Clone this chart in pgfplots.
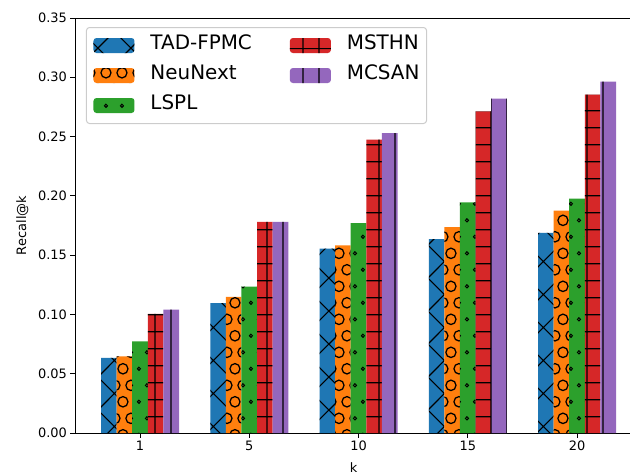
\documentclass[border=0pt]{standalone}
\usepackage{fontspec}
\setmainfont{DejaVu Sans}
\usepackage{pgfplots}
\pgfplotsset{compat=1.18}
\usetikzlibrary{patterns}
\definecolor{tabblue}{HTML}{1F77B4}
\definecolor{taborange}{HTML}{FF7F0E}
\definecolor{tabgreen}{HTML}{2CA02C}
\definecolor{tabred}{HTML}{D62728}
\definecolor{tabpurple}{HTML}{9467BD}

% X hatch
\pgfdeclarepatternformonly{xh}{\pgfpoint{0pt}{0pt}}{\pgfpoint{33pt}{33pt}}{\pgfpoint{33pt}{33pt}}{%
  \pgfsetlinewidth{1.1pt}%
  \pgfpathmoveto{\pgfpoint{-1pt}{-1pt}}\pgfpathlineto{\pgfpoint{34pt}{34pt}}%
  \pgfpathmoveto{\pgfpoint{-1pt}{34pt}}\pgfpathlineto{\pgfpoint{34pt}{-1pt}}%
  \pgfusepath{stroke}}
% large circles
\pgfdeclarepatternformonly{bigcirc}{\pgfpoint{0pt}{0pt}}{\pgfpoint{16.5pt}{33pt}}{\pgfpoint{16.5pt}{33pt}}{%
  \pgfsetlinewidth{1.3pt}%
  \pgfpathcircle{\pgfpoint{8.25pt}{8.25pt}}{5.2pt}%
  \pgfpathcircle{\pgfpoint{0pt}{24.75pt}}{5.2pt}%
  \pgfpathcircle{\pgfpoint{16.5pt}{24.75pt}}{5.2pt}%
  \pgfusepath{stroke}}
% small dots
\pgfdeclarepatternformonly{smalldot}{\pgfpoint{0pt}{0pt}}{\pgfpoint{16.5pt}{33pt}}{\pgfpoint{16.5pt}{33pt}}{%
  \pgfsetlinewidth{1.0pt}%
  \pgfpathcircle{\pgfpoint{8.25pt}{8.25pt}}{1.6pt}%
  \pgfpathcircle{\pgfpoint{0pt}{24.75pt}}{1.6pt}%
  \pgfpathcircle{\pgfpoint{16.5pt}{24.75pt}}{1.6pt}%
  \pgfusepath{stroke}}
% grid
\pgfdeclarepatternformonly{gridh}{\pgfpoint{0pt}{0pt}}{\pgfpoint{16.5pt}{16.8pt}}{\pgfpoint{16.5pt}{16.8pt}}{%
  \pgfsetlinewidth{1.2pt}%
  \pgfpathmoveto{\pgfpoint{-1pt}{8.4pt}}\pgfpathlineto{\pgfpoint{17.5pt}{8.4pt}}%
  \pgfpathmoveto{\pgfpoint{8.25pt}{-1pt}}\pgfpathlineto{\pgfpoint{8.25pt}{17.8pt}}%
  \pgfusepath{stroke}}
% vertical lines
\pgfdeclarepatternformonly{vlines}{\pgfpoint{0pt}{0pt}}{\pgfpoint{16.5pt}{16.5pt}}{\pgfpoint{16.5pt}{16.5pt}}{%
  \pgfsetlinewidth{1.2pt}%
  \pgfpathmoveto{\pgfpoint{8.25pt}{-1pt}}\pgfpathlineto{\pgfpoint{8.25pt}{17.5pt}}%
  \pgfusepath{stroke}}

\pgfplotsset{boxlegend/.style={legend image code/.code={\path[##1] (0bp,-7.5bp) rectangle (41bp,7.5bp);}}}

\pgfplotstableread{
x tad neu lspl msthn mcsan
0 0.0634 0.0647 0.0773 0.1004 0.1040
1 0.1096 0.1147 0.1234 0.1780 0.1780
2 0.1554 0.1582 0.1771 0.2474 0.2530
3 0.1636 0.1737 0.1945 0.2712 0.2819
4 0.1687 0.1875 0.1976 0.2853 0.2963
}\datatable

\begin{document}
\begin{tikzpicture}
\path[use as bounding box] (-75bp,-42bp) rectangle (555bp,433bp);
\begin{axis}[
  scale only axis, width=557bp, height=415bp,
  xmin=-0.595, xmax=4.503, ymin=0, ymax=0.35,
  xtick={0,1,2,3,4}, xticklabels={1,5,10,15,20},
  ytick={0,0.05,0.10,0.15,0.20,0.25,0.30,0.35},
  yticklabel style={/pgf/number format/.cd, fixed, fixed zerofill, precision=2},
  /pgf/number format/assume math mode=true,
  tick align=outside, tick pos=left, major tick length=4.5bp,
  tick style={line width=0.8bp, black},
  axis line style={line width=0.8bp},
  tick label style={font=\fontsize{13}{15}\selectfont},
  label style={font=\fontsize{13}{15}\selectfont},
  xlabel={k}, ylabel={Recall@k},
  xlabel style={yshift=-5bp},
  ylabel style={yshift=3bp},
  bar width=0.1428,
  legend columns=3,
  transpose legend,
  legend cell align=left,
  legend style={at={(0.01975,0.9783)}, anchor=north west,
    draw=black!20, line width=1bp, rounded corners=3bp, fill=white,
    inner xsep=7bp, inner ysep=8bp,
    font=\fontsize{20}{23}\selectfont,
    nodes={inner sep=0bp, text height=14bp, text depth=6bp},
    row sep=10bp,
    /tikz/every odd column/.append style={column sep=16bp},
    /tikz/every even column/.append style={column sep=38bp}},
]
\addplot[ybar, bar shift=-0.2856, fill=tabblue, draw=none,
  postaction={pattern=xh, pattern color=black}, boxlegend]
  table[x=x, y=tad] {\datatable};
\addlegendentry{TAD-FPMC}
\addplot[ybar, bar shift=-0.1428, fill=taborange, draw=none,
  postaction={pattern=bigcirc, pattern color=black}, boxlegend]
  table[x=x, y=neu] {\datatable};
\addlegendentry{NeuNext}
\addplot[ybar, bar shift=0, fill=tabgreen, draw=none,
  postaction={pattern=smalldot, pattern color=black}, boxlegend]
  table[x=x, y=lspl] {\datatable};
\addlegendentry{LSPL}
\addplot[ybar, bar shift=0.1428, fill=tabred, draw=none,
  postaction={pattern=gridh, pattern color=black}, boxlegend]
  table[x=x, y=msthn] {\datatable};
\addlegendentry{MSTHN}
\addplot[ybar, bar shift=0.2856, fill=tabpurple, draw=none,
  postaction={pattern=vlines, pattern color=black}, boxlegend]
  table[x=x, y=mcsan] {\datatable};
\addlegendentry{MCSAN}
\end{axis}
\end{tikzpicture}
\end{document}
